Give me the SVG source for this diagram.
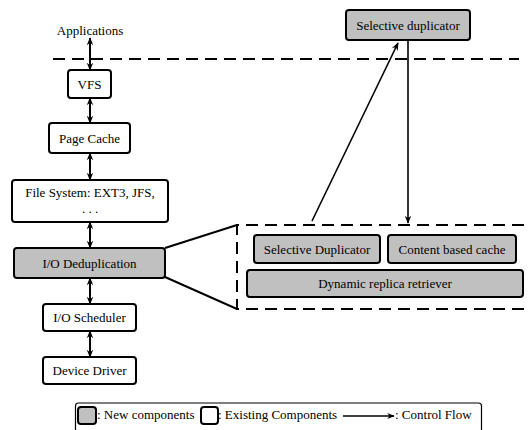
<svg xmlns="http://www.w3.org/2000/svg" width="529" height="430" viewBox="0 0 529 430">
<defs>
<style>
text{font-family:"Liberation Serif","Times New Roman",serif;font-size:13px;fill:#000}
.c{text-anchor:middle}
.box{fill:#fff;stroke:#000;stroke-width:2}
.new{fill:#c0c0c0;stroke:#000;stroke-width:2}
.dash{fill:none;stroke:#000;stroke-width:2;stroke-dasharray:12,7}
.dbl{stroke:#000;stroke-width:2;fill:none;marker-start:url(#ah);marker-end:url(#ah)}
.one{stroke:#000;stroke-width:1.6;fill:none;marker-end:url(#ah2)}
.ln{stroke:#000;stroke-width:2;fill:none}
</style>
<marker id="ah" viewBox="0 0 10 10" refX="9" refY="5" markerWidth="4" markerHeight="4" orient="auto-start-reverse" markerUnits="strokeWidth">
<path d="M0,1 L10,5 L0,9 L3,5 z" fill="#000"/>
</marker>
<marker id="ah2" viewBox="0 0 10 10" refX="9" refY="5" markerWidth="5" markerHeight="5" orient="auto" markerUnits="strokeWidth">
<path d="M0,1 L10,5 L0,9 L3,5 z" fill="#000"/>
</marker>
</defs>

<g id="boundary">
<line class="dash" x1="53" y1="59" x2="519" y2="59"/>
</g>

<g id="applications"><text class="c" x="90" y="35">Applications</text></g>

<g id="vfs"><rect class="box" x="68" y="70" width="43" height="28" rx="3"/><text class="c" x="89.5" y="88.5">VFS</text></g>
<g id="page-cache"><rect class="box" x="49" y="123" width="81" height="30" rx="3"/><text class="c" x="89.5" y="142.5">Page Cache</text></g>
<g id="file-system"><rect class="box" x="12" y="180" width="156" height="42" rx="3"/><text class="c" x="90" y="197">File System: EXT3, JFS,</text><text class="c" x="90" y="213">. . .</text></g>
<g id="io-dedup"><rect class="new" x="14" y="248" width="151" height="30" rx="3"/><text class="c" x="89.5" y="267.5">I/O Deduplication</text></g>
<g id="io-scheduler"><rect class="box" x="43" y="304" width="93" height="27" rx="3"/><text class="c" x="89.5" y="322">I/O Scheduler</text></g>
<g id="device-driver"><rect class="box" x="43" y="357" width="93" height="27" rx="3"/><text class="c" x="89.5" y="375">Device Driver</text></g>

<g id="selective-duplicator-top"><rect class="new" x="346" y="10" width="124" height="30" rx="3"/><text class="c" x="408" y="29.5">Selective duplicator</text></g>

<g id="expansion">
<path class="dash" d="M524,225 H237 V309 H524"/>
<line class="ln" x1="165" y1="248" x2="237" y2="225"/>
<line class="ln" x1="165" y1="277" x2="237" y2="309"/>
</g>

<g id="selective-duplicator"><rect class="new" x="254" y="235" width="126" height="28" rx="3"/><text class="c" x="317" y="253.5">Selective Duplicator</text></g>
<g id="content-cache"><rect class="new" x="388" y="235" width="128" height="28" rx="3"/><text class="c" x="452" y="253.5">Content based cache</text></g>
<g id="replica-retriever"><rect class="new" x="247" y="270" width="276" height="27" rx="3"/><text class="c" x="385" y="288">Dynamic replica retriever</text></g>

<g id="connectors">
<line class="dbl" x1="90" y1="38" x2="90" y2="70"/>
<line class="dbl" x1="90" y1="98" x2="90" y2="123"/>
<line class="dbl" x1="90" y1="153" x2="90" y2="180"/>
<line class="dbl" x1="90" y1="222" x2="90" y2="248"/>
<line class="dbl" x1="90" y1="278" x2="90" y2="304"/>
<line class="dbl" x1="90" y1="331" x2="90" y2="357"/>
<line class="one" x1="312" y1="221" x2="398" y2="43"/>
<line class="one" x1="408" y1="40" x2="408" y2="223"/>
</g>

<g id="legend">
<rect fill="#fff" stroke="#000" stroke-width="1.2" x="75.5" y="403" width="406" height="40" rx="3"/>
<rect class="new" x="78" y="407" width="18" height="17" rx="3"/>
<text x="97" y="419">: New components</text>
<rect class="box" x="201" y="407" width="17" height="17" rx="3"/>
<text x="218" y="419">: Existing Components</text>
<line stroke="#000" stroke-width="1.5" x1="343" y1="416" x2="394" y2="416" marker-end="url(#ah2)"/>
<text x="395" y="419">: Control Flow</text>
</g>
</svg>
